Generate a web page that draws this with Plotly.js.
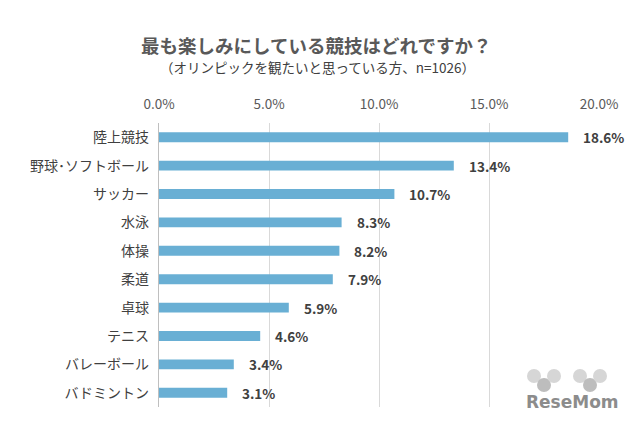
<!DOCTYPE html>
<html>
<head>
<meta charset="utf-8">
<script src="https://cdn.plot.ly/plotly-3.0.1.min.js"></script>
<style>
html,body{margin:0;padding:0;background:#fff;}
#chart{width:640px;height:427px;}
</style>
</head>
<body>
<div id="chart"></div>
<script>
const categories = ["陸上競技","野球･ソフトボール","サッカー","水泳","体操","柔道","卓球","テニス","バレーボール","バドミントン"];
const values = [18.6, 13.4, 10.7, 8.3, 8.2, 7.9, 5.9, 4.6, 3.4, 3.1];
const tickValues = [0, 5, 10, 15, 20];

const FONT = '"Noto Sans CJK JP", "Noto Sans", sans-serif';
const ML = 159, MR = 41, MT = 123, MB = 20;

const trace = {
  type: 'bar',
  orientation: 'h',
  y: categories,
  x: values,
  marker: {color: '#69AFD4'},
  hoverinfo: 'none'
};

const pw = 640 - ML - MR, ph = 427 - MT - MB;
function px(x){ return (x - ML) / pw; }
function py(y){ return (427 - MB - y) / ph; }

const annotations = [
  {text: '最も楽しみにしている競技はどれですか？', x: px(316), y: py(45),
   font: {family: FONT, size: 18.5, color: '#595959', weight: 'bold'}},
  {text: '（オリンピックを観たいと思っている方、n=1026）', x: px(317), y: py(67),
   font: {family: FONT, size: 13.5, color: '#404040'}},
  {text: '<b>ReseMom</b>', x: px(572), y: py(402),
   font: {family: '"DejaVu Sans", sans-serif', size: 17, color: '#8C8C8C'}}
].map(a => Object.assign(a, {xref:'paper', yref:'paper', xanchor:'center', yanchor:'middle', showarrow:false}));

// data labels from the data arrays
categories.forEach((c, i) => {
  annotations.push({
    x: values[i], y: c, xref: 'x', yref: 'y',
    text: values[i].toFixed(1) + '%',
    xanchor: 'left', yanchor: 'middle', xshift: 13,
    showarrow: false,
    font: {family: FONT, size: 13.5, color: '#404040', weight: 'bold'}
  });
});

const layout = {
  width: 640, height: 427,
  margin: {l: ML, r: MR, t: MT, b: MB},
  paper_bgcolor: '#fff', plot_bgcolor: '#fff',
  showlegend: false,
  bargap: 0.65,
  font: {family: FONT, color: '#404040'},
  xaxis: {
    side: 'top',
    range: [0, 20],
    tickvals: tickValues,
    ticktext: tickValues.map(v => v.toFixed(1) + '%'),
    showgrid: true, gridcolor: '#D9D9D9', gridwidth: 1,
    zeroline: false,
    showline: false,
    ticks: '',
    ticklabelstandoff: 10,
    tickfont: {family: FONT, size: 13.5, color: '#595959'},
    fixedrange: true
  },
  yaxis: {
    autorange: 'reversed',
    type: 'category',
    showline: true, linecolor: '#BFBFBF', linewidth: 1,
    showgrid: false,
    ticks: '',
    ticksuffix: '  ',
    tickfont: {family: FONT, size: 14, color: '#404040'},
    fixedrange: true
  },
  annotations: annotations,
  shapes: [
    {x0:527, x1:541, y0:383, y1:369, c:'#D6D6D6'},
    {x0:537, x1:551, y0:392, y1:378, c:'#BDBDBD'},
    {x0:547, x1:561, y0:383, y1:369, c:'#D6D6D6'},
    {x0:573, x1:587, y0:383, y1:369, c:'#D6D6D6'},
    {x0:583, x1:597, y0:392, y1:378, c:'#BDBDBD'},
    {x0:593, x1:607, y0:383, y1:369, c:'#D6D6D6'}
  ].map(s => ({type:'circle', xref:'paper', yref:'paper', x0:px(s.x0), x1:px(s.x1), y0:py(s.y0), y1:py(s.y1), fillcolor:s.c, line:{width:0}, layer:'below'}))
};

Plotly.newPlot('chart', [trace], layout, {displayModeBar: false, staticPlot: true});
</script>
</body>
</html>
